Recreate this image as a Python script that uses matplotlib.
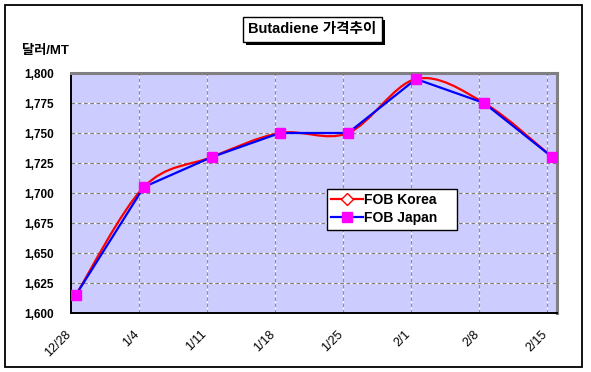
import numpy as np
import matplotlib
matplotlib.use("Agg")
import matplotlib.pyplot as plt
from matplotlib.path import Path
from matplotlib.patches import PathPatch, Rectangle
from matplotlib.lines import Line2D
import matplotlib.transforms as mtransforms

plt.rcParams["font.family"] = ["Liberation Sans", "Noto Sans CJK KR", "DejaVu Sans"]
plt.rcParams["axes.unicode_minus"] = False

# 데이터
dates = ["12/28", "1/4", "1/11", "1/18", "1/25", "2/1", "2/8", "2/15"]
days = [0, 7, 14, 21, 28, 35, 42, 49]
fob_korea = [1615, 1705, 1730, 1750, 1750, 1795, 1775, 1730]
fob_japan = [1615, 1705, 1730, 1750, 1750, 1795, 1775, 1730]
yticks = [1600, 1625, 1650, 1675, 1700, 1725, 1750, 1775, 1800]

BOLD = dict(fontweight="bold")


def smooth_path(x, y):
    """Excel 식 부드러운 선: Catmull-Rom -> 3차 Bezier 제어점."""
    pts = np.column_stack([x, y]).astype(float)
    n = len(pts)
    verts = [pts[0]]
    codes = [Path.MOVETO]
    for i in range(n - 1):
        p0 = pts[max(i - 1, 0)]
        p1, p2 = pts[i], pts[i + 1]
        p3 = pts[min(i + 2, n - 1)]
        verts += [p1 + (p2 - p0) / 6, p2 - (p3 - p1) / 6, p2]
        codes += [Path.CURVE4] * 3
    return Path(verts, codes)


fig = plt.figure(figsize=(5.91, 3.72), dpi=100)
W, H = 591, 372
ax = fig.add_axes([71 / W, 1 - 313 / H, (557 - 71) / W, (313 - 73) / H])
ax.set_facecolor("#CCCCFF")

ax.set_xlim(-0.5, 49.5)
ax.set_ylim(1600, 1800)

# 격자 (흰 바탕 + 회색 점선)
vgrid = [d + 6.5 for d in days[:-1]]
for yv in yticks[1:-1]:
    ax.axhline(yv, color="white", lw=0.9, zorder=1)
    ax.axhline(yv, color="#808080", lw=0.9, ls=(0, (3, 2)), zorder=1.1)
for xv in vgrid:
    ax.axvline(xv, color="white", lw=0.9, zorder=1)
    ax.axvline(xv, color="#909090", lw=0.9, ls=(0, (3, 2)), zorder=1.1)

# FOB Korea: 부드러운 선
ax.add_patch(PathPatch(smooth_path(days, fob_korea), fc="none", ec="#FF0000",
                       lw=1.6, zorder=3))
ax.plot(days, fob_korea, ls="none", marker="D", ms=5, mfc="white", mec="#FF0000",
        zorder=3.5)
# FOB Japan
ax.plot(days, fob_japan, color="#0000FF", lw=1.6, marker="s", ms=7,
        mfc="#FF00FF", mec="#FF00FF", zorder=4)

ax.set_yticks(yticks)
ax.set_yticklabels([f"{v:,}" for v in yticks], fontsize=8.5, **BOLD)
ax.set_xticks(days)
ax.set_xticklabels(dates, fontsize=9, rotation=45, ha="right", va="center",
                   rotation_mode="anchor")
ax.tick_params(axis="both", length=0)
ax.tick_params(axis="y", pad=12.5)
ax.tick_params(axis="x", pad=14)
shift = mtransforms.ScaledTranslation(-7 / 100, 0, fig.dpi_scale_trans)
for lab in ax.get_xticklabels():
    lab.set_transform(lab.get_transform() + shift)

for side in ("top", "right"):
    ax.spines[side].set_color("#808080")
    ax.spines[side].set_linewidth(2.2)
for side in ("left", "bottom"):
    ax.spines[side].set_color("black")
    ax.spines[side].set_linewidth(1.4)

# 범례
handles = [
    Line2D([], [], color="#FF0000", lw=1.6, marker="D", ms=6, mfc="white", mec="#FF0000"),
    Line2D([], [], color="#0000FF", lw=1.6, marker="s", ms=7, mfc="#FF00FF", mec="#FF00FF"),
]
leg = ax.legend(handles, ["FOB Korea    ", "FOB Japan    "], loc="upper left",
                bbox_to_anchor=((327 - 71) / 486, 1 - (189 - 73) / 240),
                fancybox=False, framealpha=1, edgecolor="black",
                prop=dict(size=10, weight="bold"), handlelength=2.3,
                handletextpad=0.05, borderpad=0.3, labelspacing=0.3,
                borderaxespad=0)
leg.get_frame().set_linewidth(1.0)

# 제목 박스 (그림자 포함)
fig.patches.append(Rectangle((246 / W, 1 - 45 / H), 139 / W, 25 / H,
                             transform=fig.transFigure, fc="black", ec="none"))
fig.patches.append(Rectangle((243 / W, 1 - 42 / H), 139 / W, 25 / H,
                             transform=fig.transFigure, fc="white", ec="black", lw=1.0))
fig.text(312.5 / W, 1 - 29.5 / H, "Butadiene 가격추이", ha="center", va="center",
         fontsize=10.5, **BOLD)

fig.text(22 / W, 1 - 51 / H, "달러/MT", ha="left", va="center", fontsize=9.5, **BOLD)

# 전체 테두리
fig.patches.append(Rectangle((5 / W, 1 - 367 / H), 577 / W, 362 / H,
                             transform=fig.transFigure, fc="none", ec="black", lw=1.3))

fig.savefig("out.png", dpi=100)
